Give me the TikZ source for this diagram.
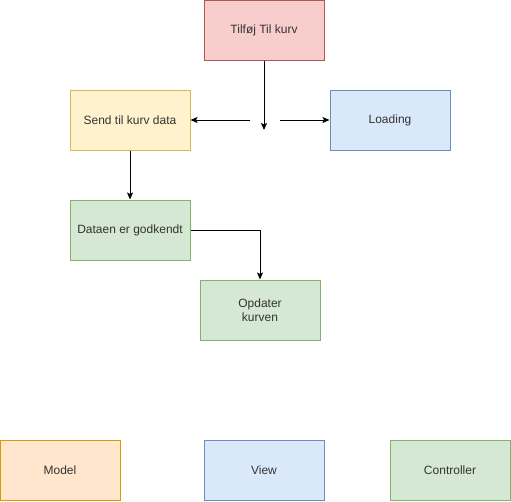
\documentclass[tikz,border=0pt]{standalone}
\usepackage{fontspec}
\setmainfont{Liberation Sans}
\usetikzlibrary{arrows.meta}
\definecolor{redf}{HTML}{F8CECC}\definecolor{redd}{HTML}{B85450}
\definecolor{yelf}{HTML}{FFF2CC}\definecolor{yeld}{HTML}{D6B656}
\definecolor{bluf}{HTML}{DAE8FC}\definecolor{blud}{HTML}{6C8EBF}
\definecolor{grnf}{HTML}{D5E8D4}\definecolor{grnd}{HTML}{82B366}
\definecolor{orgf}{HTML}{FFE6CC}\definecolor{orgd}{HTML}{D79B00}
\definecolor{txt}{HTML}{333333}
\begin{document}
\begin{tikzpicture}[x=1pt,y=-1pt,
  box/.style={draw, line width=1pt, minimum width=120pt, minimum height=60pt, inner sep=0pt, align=center, font=\fontsize{12pt}{14pt}\selectfont, text=txt},
  conn/.style={draw, line width=1pt, -{Stealth[length=7pt,width=6pt,inset=1.5pt]}}]
\useasboundingbox (0,0) rectangle (511,501);
\node[box, fill=redf, draw=redd] (tilfoj) at (264,30) {Tilføj Til kurv};
\node[box, fill=yelf, draw=yeld] (send) at (130,120) {Send til kurv data};
\node[box, fill=bluf, draw=blud] (loading) at (390,120) {Loading};
\node[box, fill=grnf, draw=grnd] (dataen) at (130,230) {Dataen er godkendt};
\node[box, fill=grnf, draw=grnd] (opdater) at (260,310) {Opdater\\kurven};
\node[box, fill=orgf, draw=orgd] (model) at (60,470) {Model};
\node[box, fill=bluf, draw=blud] (view) at (264,470) {View};
\node[box, fill=grnf, draw=grnd] (ctrl) at (450,470) {Controller};
\coordinate (mid) at (264,130);
\coordinate (lstart) at (250,120);
\coordinate (rstart) at (280,120);
\draw[conn] (tilfoj.south) -- (mid);
\draw[conn] (lstart) -- (send.east);
\draw[conn] (rstart) -- (loading.west);
\draw[conn] (send.south) -- (dataen.north);
\draw[conn] (dataen.east) -| (opdater.north);
\end{tikzpicture}
\end{document}
